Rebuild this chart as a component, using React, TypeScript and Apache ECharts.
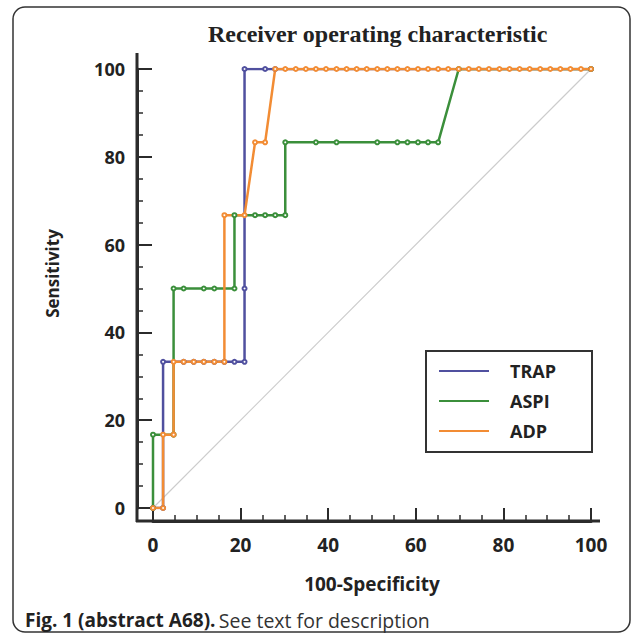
import React, { useEffect, useRef } from "react";
import * as echarts from "echarts";

// 100-Specificity (x) and Sensitivity (y)
const trapX = [0, 2.3, 2.3, 7.0, 9.3, 11.6, 14.0, 16.3, 18.6, 20.9, 20.9, 20.9, 25.6, 27.9, 100];
const trapY = [0, 0, 33.3, 33.3, 33.3, 33.3, 33.3, 33.3, 33.3, 33.3, 50, 100, 100, 100, 100];

const aspiX = [0, 0, 4.7, 4.7, 7.0, 11.6, 14.0, 18.6, 18.6, 23.3, 25.6, 27.9, 30.2, 30.2, 37.2, 41.9, 51.2, 55.8, 58.1, 60.5, 62.8, 65.1, 69.8, 100];
const aspiY = [0, 16.7, 16.7, 50, 50, 50, 50, 50, 66.7, 66.7, 66.7, 66.7, 66.7, 83.3, 83.3, 83.3, 83.3, 83.3, 83.3, 83.3, 83.3, 83.3, 100, 100];

const adpX = [0, 2.3, 2.3, 4.7, 4.7, 7.0, 9.3, 11.6, 14.0, 16.3, 16.3, 20.9, 23.3, 25.6, 27.9, 30.2, 32.6, 34.9, 37.2, 39.5, 41.9, 44.2, 46.5, 48.8, 51.2, 53.5, 55.8, 58.1, 60.5, 62.8, 65.1, 67.4, 69.8, 72.1, 74.4, 76.7, 79.1, 81.4, 83.7, 86.0, 88.4, 90.7, 93.0, 95.3, 97.7, 100];
const adpY = [0, 0, 16.7, 16.7, 33.3, 33.3, 33.3, 33.3, 33.3, 33.3, 66.7, 66.7, 83.3, 83.3, 100, 100, 100, 100, 100, 100, 100, 100, 100, 100, 100, 100, 100, 100, 100, 100, 100, 100, 100, 100, 100, 100, 100, 100, 100, 100, 100, 100, 100, 100, 100, 100];

const diagX = [0, 100];
const diagY = [0, 100];

const seriesNames = ["TRAP", "ASPI", "ADP"];
const xTicks = [0, 20, 40, 60, 80, 100];

const zip = (xs: number[], ys: number[]) => xs.map((x, i) => [x, ys[i]]);

export default function App() {
  const ref = useRef<HTMLDivElement>(null);
  useEffect(() => {
    document.body.style.margin = "0";
    if (!ref.current) return;
    const chart = echarts.init(ref.current, null, { renderer: "svg" });
    const axisColor = "#2b2b2b";
    const labelFont = { fontFamily: "Open Sans", fontWeight: "bold" as const, fontSize: 18, color: "#222" };
    const colors = ["#50509f", "#3b8f3b", "#f28c34"];
    const lineSeries = (name: string, data: number[][], color: string) => ({
      name,
      type: "line",
      data,
      color,
      symbol: "emptyCircle",
      symbolSize: 4,
      showSymbol: true,
      lineStyle: { color, width: 2.5 },
      itemStyle: { color, borderWidth: 1 },
      z: 3,
    });
    chart.setOption({
      animation: false,
      title: {
        text: "Receiver operating characteristic",
        left: 203,
        top: 17,
        textStyle: { fontFamily: "Liberation Serif", fontWeight: "bold", fontSize: 24, color: "#222" },
      },
      grid: { left: 153, top: 69, width: 438, height: 439 },
      xAxis: {
        type: "value",
        min: 0,
        max: 100,
        interval: 20,
        offset: 13,
        axisLine: { show: true, onZero: false, lineStyle: { color: axisColor, width: 3 } },
        axisTick: { show: true, inside: true, length: 13, lineStyle: { color: axisColor, width: 2 } },
        minorTick: { show: true, splitNumber: 4, length: 6, lineStyle: { color: axisColor, width: 1.5 } },
        splitLine: { show: false },
        axisLabel: { ...labelFont, fontSize: 19, margin: 14, customValues: xTicks },
        name: "100-Specificity",
        nameLocation: "middle",
        nameGap: 53,
        nameTextStyle: { fontFamily: "Open Sans", fontWeight: "bold", fontSize: 19, color: "#222" },
      },
      yAxis: {
        type: "value",
        min: 0,
        max: 100,
        interval: 20,
        offset: 16,
        axisLine: { show: true, onZero: false, lineStyle: { color: axisColor, width: 3 } },
        axisTick: { show: true, inside: true, length: 15, lineStyle: { color: axisColor, width: 2 } },
        minorTick: { show: true, splitNumber: 4, length: 6, lineStyle: { color: axisColor, width: 1.5 } },
        splitLine: { show: false },
        axisLabel: { ...labelFont, margin: 12 },
        name: "Sensitivity",
        nameLocation: "middle",
        nameGap: 76,
        nameTextStyle: { fontFamily: "Open Sans", fontWeight: "bold", fontSize: 17, color: "#222", padding: [0, 0, 0, 30] },
      },
      legend: {
        data: seriesNames,
        orient: "vertical",
        left: 434,
        top: 356,
        icon: "rect",
        itemWidth: 50,
        itemHeight: 2,
        itemGap: 10,
        textStyle: { fontFamily: "Open Sans", fontWeight: "bold", fontSize: 18, color: "#222", lineHeight: 20, padding: [0, 0, 0, 16] },
      },
      series: [
        {
          name: "diag",
          type: "line",
          data: zip(diagX, diagY),
          symbol: "none",
          silent: true,
          lineStyle: { color: "#cccccc", width: 1.2 },
          z: 1,
        },
        lineSeries("TRAP", zip(trapX, trapY), colors[0]),
        lineSeries("ASPI", zip(aspiX, aspiY), colors[1]),
        lineSeries("ADP", zip(adpX, adpY), colors[2]),
      ],
      graphic: [
        {
          type: "rect",
          shape: { x: 13, y: 7, width: 617, height: 625, r: 12 },
          style: { fill: "none", stroke: "#333", lineWidth: 1.5 },
          silent: true,
        },
        {
          type: "line",
          shape: { x1: 137, y1: 53, x2: 137, y2: 522 },
          style: { stroke: axisColor, lineWidth: 3 },
        },
        {
          type: "line",
          shape: { x1: 136, y1: 521, x2: 600, y2: 521 },
          style: { stroke: axisColor, lineWidth: 3 },
        },
        {
          type: "rect",
          shape: { x: 426, y: 351, width: 166, height: 101 },
          style: { fill: "none", stroke: "#333", lineWidth: 2 },
        },
        {
          type: "text",
          x: 25,
          y: 620,
          style: {
            text: "{b|Fig. 1 (abstract A68).} {n|See text for description}",
            verticalAlign: "middle",
            rich: {
              b: { fontFamily: "Open Sans", fontWeight: "bold", fontSize: 19, fill: "#222" },
              n: { fontFamily: "Open Sans", fontSize: 19.5, fill: "#333" },
            },
          },
        },
      ],
    });
    return () => chart.dispose();
  }, []);
  return <div ref={ref} style={{ width: 637, height: 634, position: "absolute", left: 0, top: 0 }} />;
}
